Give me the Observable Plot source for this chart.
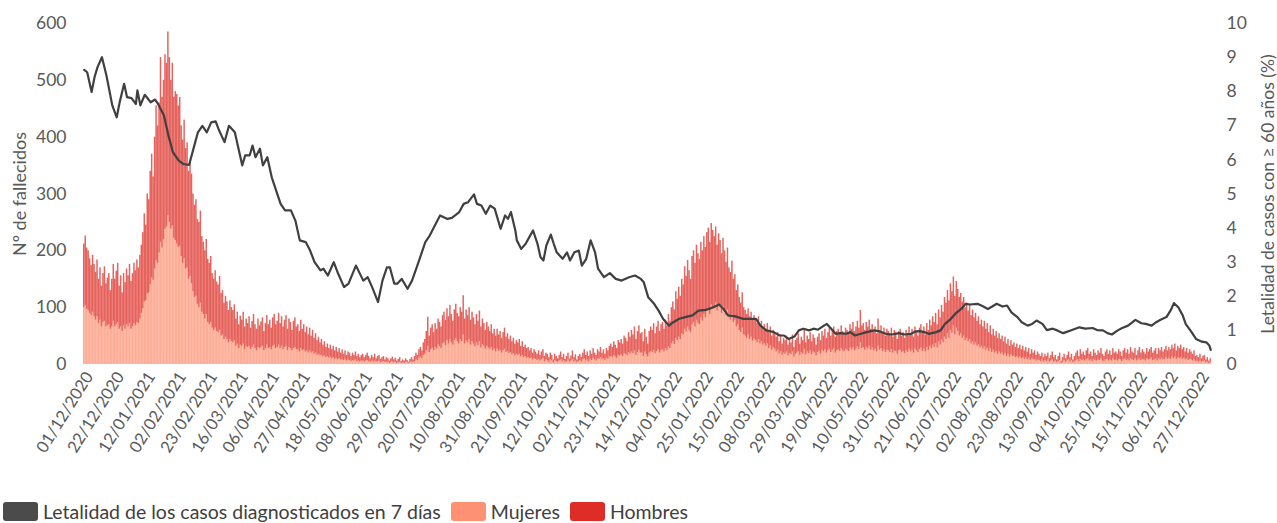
<!DOCTYPE html>
<html><head><meta charset="utf-8">
<script src="https://cdn.jsdelivr.net/npm/d3@7"></script>
<script src="https://cdn.jsdelivr.net/npm/@observablehq/plot@0.6"></script>
<style>
body{margin:0;background:#fff;font-family:Lato,sans-serif;}
#chart svg{display:block}
.legend{display:flex;align-items:center;height:23px;padding-left:3px;font-size:19.5px;color:#404040;white-space:nowrap}
.legend .sw{display:inline-block;width:35px;height:19px;border-radius:3px;margin-right:5px}
.legend .it{display:flex;align-items:center;margin-right:10px}
</style></head><body>
<div id="chart"></div>
<div class="legend">
<span class="it"><span class="sw" style="background:#4b4b4b"></span>Letalidad de los casos diagnosticados en 7 días</span>
<span class="it"><span class="sw" style="background:#fc9272"></span>Mujeres</span>
<span class="it"><span class="sw" style="background:#de2d26"></span>Hombres</span>
</div>
<script>
// Daily deaths from 01/12/2020, one value per day
const mujeres = [
100,104,97,95,90,86,92, 84,78,84,72,78,66,74, 76,66,68,70,62,66,76, 66,70,74,62,66,58,68,
62,70,66,72,62,66,72, 68,74,72,80,90,98,110, 112,124,126,140,152,148,168, 182,178,196,215,205,220,238,
242,262,250,238,244,222,218, 212,206,208,190,178,186,168, 170,150,155,142,128,118,120, 106,100,108,92,88,80,88,
74,70,74,64,60,64,58, 56,60,50,52,44,48,44, 38,44,40,38,42,32,36, 28,34,32,36,26,32,30,
32,26,30,34,28,24,30, 28,30,32,24,28,34,28, 30,26,32,34,28,30,34, 28,32,26,30,32,24,30,
28,24,28,30,26,26,22, 28,24,26,22,24,20,24, 20,22,18,20,16,18,15, 16,13,15,12,14,11,13,
10,12,9,11,8,10,8, 9,7,9,6,8,7,5, 7,6,8,5,6,4,6, 6,4,6,7,5,4,6,
4,6,4,5,6,3,4, 5,3,4,4,2,4,5, 3,4,2,3,4,2,3, 2,4,3,2,3,5,3,
5,8,7,11,13,10,16, 18,24,32,21,26,29,24, 30,27,34,31,28,36,38, 33,42,36,44,38,34,42,
46,40,36,44,40,52,36, 42,38,44,34,40,36,31, 38,33,40,29,35,32,27, 32,29,26,30,24,27,22,
27,23,25,20,24,27,21, 23,19,21,17,19,15,18, 16,18,13,16,12,14,11, 12,10,11,8,10,9,7,
9,6,8,10,5,8,7, 4,8,6,3,7,5,4, 6,8,4,7,3,5,8, 4,6,9,4,6,3,5,
7,4,8,10,6,8,5, 9,7,11,8,6,10,9, 12,8,10,7,11,9,13, 14,12,16,13,11,16,15,
17,14,19,18,15,21,18, 22,19,24,16,21,25,20, 20,14,22,17,13,20,23, 21,25,19,23,26,20,24,
26,22,28,24,31,28,36, 40,35,46,42,48,44,54, 52,62,57,66,60,56,70, 74,66,78,72,70,82,76,
88,82,94,98,88,105,100, 98,108,94,104,100,90,102, 94,86,96,82,78,88,74, 78,66,70,60,56,64,52,
50,46,52,44,48,41,45, 42,38,44,36,40,34,37, 32,36,28,33,25,30,27, 22,25,18,23,16,20,18,
22,15,19,17,22,13,18, 20,23,16,21,18,26,17, 22,19,24,17,22,20,15, 21,23,18,25,22,26,20,
24,27,21,25,28,20,24, 26,23,28,24,22,27,25, 23,29,26,30,24,27,31, 26,38,28,30,25,30,27,
32,25,29,24,27,22,32, 25,28,23,26,21,25,24, 21,26,20,24,23,18,24, 25,21,23,19,24,21,27,
22,25,20,27,24,21,26, 29,23,27,22,30,25,32, 28,34,30,37,29,40,34, 43,38,48,44,54,46,60,
55,68,52,64,58,50,54, 46,50,42,46,40,44,36, 40,34,38,32,35,29,32, 27,31,25,29,23,28,21,
25,20,23,18,22,18,20, 16,19,14,18,13,17,14, 15,12,14,11,13,10,12, 9,12,8,11,7,10,8,
9,6,8,7,5,8,4, 7,5,8,4,6,8,4, 6,3,5,7,2,4,7, 4,6,8,4,7,3,5,
7,9,5,9,7,8,6, 8,10,6,8,5,9,7, 6,8,7,10,6,5,8, 9,6,8,6,10,7,8,
6,9,8,5,8,10,7, 9,6,10,8,7,10,6, 8,10,7,9,8,6,10, 8,9,11,7,8,10,6,
10,8,11,8,9,12,9, 11,9,13,10,13,9,12, 10,12,9,11,8,10,7, 9,8,6,9,5,6,4,
6,4,5,6,3,4,2, 4
];
const hombres = [
112,122,108,105,96,88,100, 92,84,100,78,92,72,86, 96,76,84,90,68,84,100, 84,94,104,76,90,68,92,
82,98,90,104,84,94,106, 97,110,98,112,120,134,155, 133,176,164,200,218,182,232, 273,242,264,325,265,280,307,
288,323,290,262,286,248,262, 263,249,262,230,217,244,212, 220,190,205,193,172,162,170, 149,150,162,133,127,120,132,
111,108,116,96,90,101,87, 84,95,75,78,64,72,66, 57,68,60,57,63,48,56, 42,51,46,56,40,48,42,
52,38,46,54,42,38,50, 40,45,50,34,44,52,42, 48,38,50,54,42,46,56, 44,52,40,48,54,38,50,
46,36,48,52,40,44,36, 50,38,44,34,42,32,40, 30,38,28,34,26,30,23, 28,21,25,18,22,17,21,
16,20,15,19,14,18,12, 17,11,15,10,14,13,9, 13,10,14,9,12,8,10, 12,8,10,13,9,6,10,
8,12,6,9,10,6,8, 9,5,8,6,4,6,8, 5,7,4,6,8,3,5, 4,6,4,2,6,7,5,
9,12,9,15,17,14,22, 26,34,51,29,38,41,32, 42,35,46,43,38,50,54, 45,56,48,60,50,42,54,
60,50,48,56,52,69,44, 54,48,56,44,52,46,39, 50,43,54,37,45,40,33, 42,37,32,40,30,35,28,
35,29,33,26,32,37,27, 31,25,29,23,27,21,24, 22,26,19,24,18,20,17, 18,14,17,12,16,13,11,
15,10,14,16,9,12,11, 8,12,10,5,11,9,6, 10,14,8,11,6,9,12, 6,9,15,8,11,5,9,
11,8,12,16,10,14,9, 15,11,17,12,10,16,13, 18,12,16,11,17,15,19, 22,18,24,21,17,26,23,
27,22,31,28,25,35,30, 38,33,42,28,37,43,34, 36,26,40,31,23,38,43, 39,47,35,43,50,38,46,
48,40,50,44,57,48,64, 70,61,82,73,88,76,96, 88,110,98,117,105,94,120, 126,112,132,123,115,133,124,
137,124,138,142,127,143,136, 127,134,116,126,118,105,120, 106,94,109,88,84,94,76, 80,64,70,58,52,62,48,
45,42,46,40,44,37,41, 38,34,40,32,36,30,33, 30,36,28,33,25,30,27, 26,31,22,29,20,26,24,
28,19,25,21,30,17,24, 26,31,20,27,24,34,21, 28,25,32,23,30,26,19, 27,31,24,33,28,36,26,
32,37,29,35,38,28,34, 36,31,40,34,30,37,35, 33,41,36,44,34,39,45, 38,57,40,42,35,44,39,
46,37,41,34,39,32,48, 35,40,33,38,29,37,34, 31,38,28,36,33,26,34, 37,29,33,27,36,31,39,
32,37,28,39,34,29,38, 41,33,39,30,42,35,46, 40,50,44,53,41,56,48, 61,54,70,64,76,66,82,
73,86,68,82,74,68,71, 64,68,58,62,54,60,50, 56,48,52,44,49,41,46, 39,45,37,43,33,40,31,
37,30,35,28,32,26,30, 24,29,22,26,19,25,20, 23,18,22,17,21,16,20, 15,18,14,17,11,16,12,
15,10,14,11,9,12,8, 11,9,12,6,10,14,8, 10,5,9,13,4,8,11, 6,10,14,8,11,5,9,
13,15,9,17,11,14,10, 16,18,12,14,9,17,13, 10,16,13,18,12,9,14, 17,12,16,10,18,13,14,
12,17,14,9,16,18,13, 17,12,20,14,13,18,10, 16,20,13,17,14,12,18, 14,17,19,13,16,18,12,
18,16,19,14,17,20,15, 19,17,21,18,23,15,20, 18,22,17,19,14,18,13, 17,14,12,15,9,10,8,
12,6,9,10,5,8,4, 6
];
// Lethality (%) read at these day offsets from 01/12/2020
const letalidadDia = [0,2,5,7,9,12,15,19,22,24,27,29,32,35,36,38,41,45,48,50,54,57,60,64,67,71,74,77,80,83,86,89,91,95,98,102,107,109,112,114,116,119,121,124,127,130,133,136,140,143,146,150,153,156,160,162,165,169,172,176,179,184,189,192,195,199,202,205,207,210,212,215,219,222,226,231,234,238,241,246,249,254,257,260,264,266,269,272,275,278,282,285,287,289,292,293,296,299,302,304,307,309,311,313,316,318,320,324,327,329,332,335,337,340,343,346,348,352,356,360,364,369,373,377,379,382,386,389,392,396,399,403,407,412,416,421,425,430,433,436,441,446,450,455,458,462,467,471,474,477,481,484,487,491,494,497,501,503,505,509,512,516,519,522,526,530,535,538,543,547,552,555,560,563,566,569,572,577,580,583,587,590,594,597,600,605,609,612,615,618,622,625,628,632,635,639,642,645,649,652,656,659,663,665,669,674,678,683,686,690,693,696,700,703,707,710,712,716,719,723,726,729,733,736,738,741,744,746,750,753,757,760,762,763];
const letalidad = [8.64,8.57,7.99,8.43,8.72,9.01,8.48,7.6,7.25,7.69,8.23,7.84,7.81,7.64,8.04,7.6,7.91,7.69,7.77,7.64,7.3,6.72,6.23,5.98,5.88,5.85,6.33,6.81,7.0,6.81,7.1,7.13,6.9,6.52,7.0,6.81,5.84,6.13,6.13,6.42,6.08,6.33,5.84,6.08,5.49,5.1,4.71,4.52,4.52,4.22,3.64,3.59,3.34,3.0,2.76,2.81,2.61,3.0,2.66,2.27,2.37,2.9,2.46,2.56,2.27,1.83,2.46,2.85,2.85,2.37,2.37,2.51,2.22,2.46,2.95,3.59,3.78,4.12,4.37,4.27,4.3,4.47,4.71,4.76,4.99,4.71,4.66,4.42,4.66,4.57,3.98,4.37,4.27,4.47,3.93,3.64,3.39,3.54,3.78,3.93,3.54,3.15,3.05,3.49,3.81,3.54,3.29,3.1,3.29,3.05,3.29,3.34,2.9,3.1,3.64,3.29,2.81,2.56,2.68,2.51,2.46,2.56,2.61,2.51,2.41,1.97,1.78,1.58,1.34,1.14,1.24,1.34,1.39,1.44,1.58,1.6,1.66,1.76,1.63,1.44,1.41,1.34,1.34,1.34,1.14,1.0,0.95,0.85,0.85,0.75,0.82,1.0,1.05,1.0,1.05,1.02,1.14,1.19,1.09,0.9,0.92,0.9,0.95,0.85,0.9,0.95,1.0,0.98,0.9,0.88,0.92,0.88,0.9,0.97,0.98,0.95,0.9,0.95,1.0,1.19,1.34,1.49,1.63,1.78,1.76,1.78,1.7,1.63,1.7,1.78,1.7,1.73,1.53,1.39,1.24,1.14,1.19,1.29,1.19,1.01,1.05,1.0,0.92,0.95,1.01,1.09,1.05,1.07,1.01,1.0,0.92,0.88,1.0,1.07,1.14,1.24,1.31,1.21,1.19,1.14,1.24,1.31,1.39,1.6,1.8,1.68,1.44,1.19,0.95,0.75,0.67,0.65,0.56,0.43];
const ticksIzq = [0,100,200,300,400,500,600];
const ticksDer = [0,1,2,3,4,5,6,7,8,9,10];
const series = ["Mujeres","Hombres"];
const colores = ["#fc9272","#de2d26"];
const inicio = new Date(Date.UTC(2020,11,1));
const fmt = d3.utcFormat("%d/%m/%Y");
const fechas = mujeres.map((_, i) => fmt(d3.utcDay.offset(inicio, i)));
const tabla = [
  ...mujeres.map((v, i) => ({fecha: fechas[i], sexo: "Mujeres", n: v})),
  ...hombres.map((v, i) => ({fecha: fechas[i], sexo: "Hombres", n: v}))
];
const factor = 600 / 10;
const linea = letalidadDia.map((d, i) => ({fecha: fechas[d], v: letalidad[i]}));

const chart = Plot.plot({
  width: 1277, height: 500,
  marginLeft: 83, marginRight: 66, marginTop: 23, marginBottom: 136,
  style: {fontFamily: "Lato, sans-serif", fontSize: "17.5px", color: "#595959", background: "#fff"},
  x: {type: "band", domain: fechas, padding: 0},
  y: {domain: [0, 600]},
  color: {domain: series, range: colores},
  marks: [
    Plot.barY(tabla, {x: "fecha", y: "n", fill: "sexo", fillOpacity: 0.75}),
    Plot.line(linea, {x: "fecha", y: d => d.v * factor, stroke: "#404040", strokeWidth: 2.2}),
    Plot.axisX({ticks: fechas.filter((d, i) => i % 21 === 0), tickRotate: -58, tickSize: 0, tickPadding: 9, dx: 5, fontSize: 16.5, label: null}),
    Plot.axisY({anchor: "left", ticks: ticksIzq, tickSize: 0, tickPadding: 17, label: null}),
    Plot.axisY({anchor: "right", ticks: ticksDer.map(t => t * factor), tickFormat: d => d / factor, tickSize: 0, tickPadding: 15, label: null}),
    Plot.text(["Nº de fallecidos"], {frameAnchor: "left", dx: -63, rotate: -90, textAnchor: "middle", fontSize: 18, fill: "#595959"}),
    Plot.text(["Letalidad de casos con ≥ 60 años (%)"], {frameAnchor: "right", dx: 57, rotate: -90, textAnchor: "middle", fontSize: 17.5, fill: "#595959"})
  ]
});
document.getElementById("chart").appendChild(chart);
</script>
</body></html>
